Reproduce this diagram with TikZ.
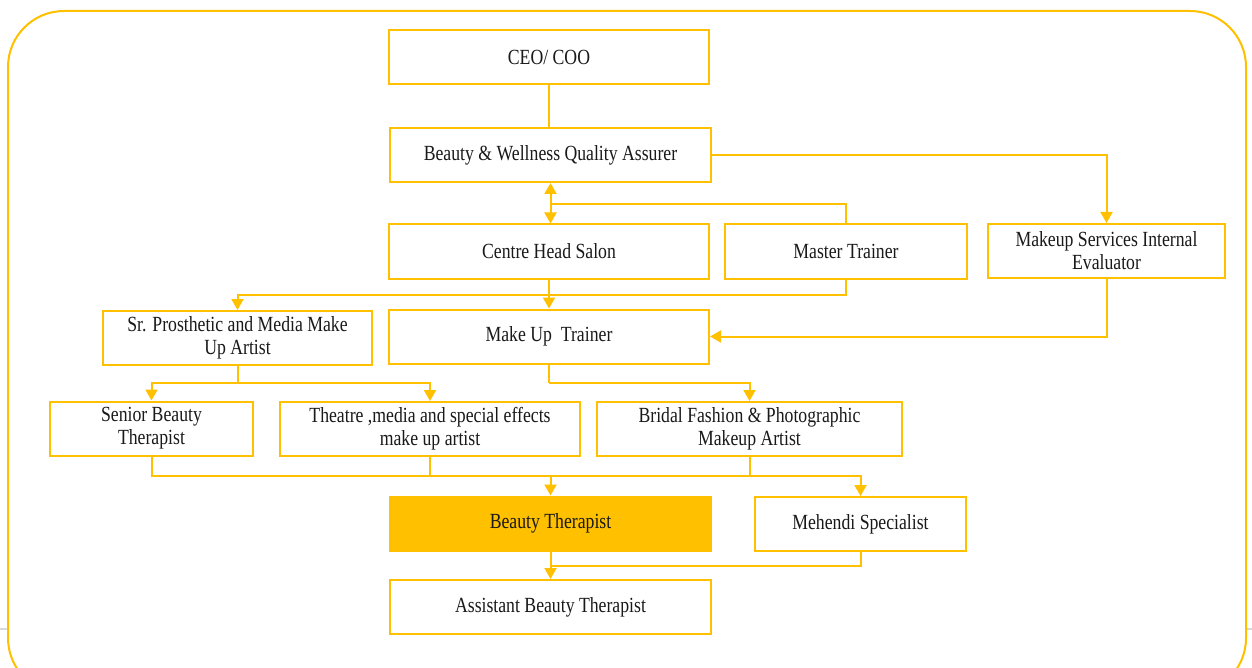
\documentclass[tikz,border=0pt]{standalone}
\usepackage{fontspec}
\setmainfont{Liberation Serif}[FakeStretch=0.82]
\usetikzlibrary{arrows.meta}
\definecolor{gold}{HTML}{FFC000}

\begin{document}
\begin{tikzpicture}[x=0.5pt, y=-0.5pt,
box/.style={draw=gold, line width=1pt, fill=white, minimum height=27pt,
inner sep=1pt, align=center, text=black!90,
font=\fontsize{10.8}{11.6}\selectfont},
link/.style={draw=gold, line width=1pt},
>={Triangle[width=6pt,length=5.5pt]}]
\useasboundingbox (0,0) rectangle (1252,668);
\clip (0,0) rectangle (1252,668);
\draw[black!15, line width=0.8pt] (0,629) -- (1252,629);
\draw[gold, line width=1pt, fill=white, rounded corners=28pt] (8,11) rectangle (1246,694);
% boxes
\node[box, minimum width=160pt] (ceo) at (549,57.5) {CEO/ COO};
\node[box, minimum width=160.5pt] (qa) at (550.5,155) {Beauty \& Wellness Quality Assurer};
\node[box, minimum width=160pt] (centre) at (549,251.5) {Centre Head Salon};
\node[box, minimum width=121pt] (master) at (846,251.5) {Master Trainer};
\node[box, minimum width=118.5pt] (eval) at (1106.5,251) {Makeup Services Internal\\Evaluator};
\node[box, minimum width=134.5pt] (prosth) at (237.5,338) {Sr. Prosthetic and Media Make\\Up Artist};
\node[box, minimum width=160pt] (trainer) at (549,336.5) {Make Up~~Trainer};
\node[box, minimum width=101.5pt] (senior) at (151.5,428.5) {Senior Beauty\\Therapist};
\node[box, minimum width=150pt] (theatre) at (430,429) {Theatre ,media and special effects\\make up artist};
\node[box, minimum width=152.5pt] (bridal) at (749.5,429) {Bridal Fashion \& Photographic\\Makeup Artist};
\node[box, minimum width=160.5pt, fill=gold] (bt) at (550.5,523.5) {Beauty Therapist};
\node[box, minimum width=105.5pt] (mehendi) at (860.5,524) {Mehendi Specialist};
\node[box, minimum width=160.5pt] (asst) at (550.5,607) {Assistant Beauty Therapist};
% joints
\coordinate (j1) at (550.5,204);
\coordinate (j2) at (549,295);
\coordinate (j3) at (237.5,383);
\coordinate (j4) at (549,383);
\coordinate (j5) at (550.5,476);
\coordinate (j6) at (550.5,566);
% links
\draw[link] (ceo.south) -- (ceo.south |- qa.north);
\draw[link,->] (qa.east) -| (eval.north);
\draw[link,<->] (qa.south) -- (qa.south |- centre.north);
\draw[link] (master.north) |- (j1);
\draw[link,->] (centre.south) -- (trainer.north);
\draw[link] (master.south) |- (j2);
\draw[link,->] (j2) -| (prosth.north);
\draw[link,->] (eval.south) |- (trainer.east);
\draw[link,->] (prosth.south) -- (j3) -| (senior.north);
\draw[link,->] (j3) -| (theatre.north);
\draw[link] (trainer.south) -- (j4);
\draw[link,->] (j4) -| (bridal.north);
\draw[link] (senior.south) |- (j5);
\draw[link] (theatre.south) -- (theatre.south |- j5);
\draw[link] (bridal.south) |- (j5);
\draw[link,->] (j5) -- (bt.north);
\draw[link,->] (j5) -| (mehendi.north);
\draw[link,->] (bt.south) -- (asst.north);
\draw[link] (mehendi.south) |- (j6);
\end{tikzpicture}
\end{document}
